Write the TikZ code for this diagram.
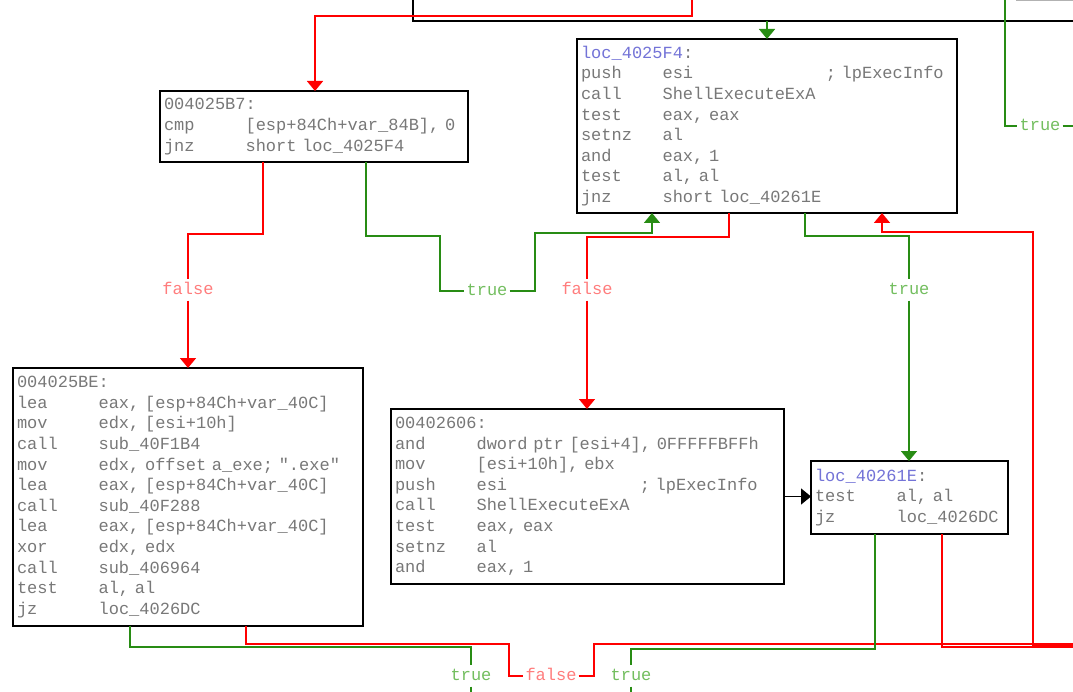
\documentclass[tikz,border=0pt]{standalone}
\usepackage{fontspec}
\usepackage{xcolor}
\usepackage{tikz}
\usetikzlibrary{arrows.meta}
\newfontfamily\asmfont{Liberation Mono}
\definecolor{asmgray}{RGB}{120,120,120}
\definecolor{locblue}{RGB}{115,115,215}
\definecolor{edgered}{RGB}{255,0,0}
\definecolor{edgegreen}{RGB}{40,140,20}
\definecolor{lblred}{RGB}{255,125,125}
\definecolor{lblgreen}{RGB}{115,190,95}
\newcommand{\asmtext}{\asmfont\fontsize{17}{20.6}\selectfont\spaceskip=10.2pt\relax}
\newcommand{\ins}[2]{\makebox[81.6pt][l]{#1}#2}
\newcommand{\cmt}[2]{\makebox[163.2pt][l]{#1}; #2}
\newcommand{\loc}[1]{\textcolor{locblue}{#1}:}

\begin{document}
\begin{tikzpicture}[x=1pt,y=-1pt,
  blk/.style={draw=black,line width=2pt,fill=white,anchor=north west,inner xsep=4pt,inner ysep=0pt,outer sep=0pt,align=left,text=asmgray,font=\asmtext},
  yes/.style={draw=edgegreen,line width=1.6pt},
  no/.style={draw=edgered,line width=1.6pt},
  jmp/.style={draw=black,line width=1.6pt},
  arr/.style={-{Triangle[width=16pt,length=10pt]}},
  lbl/.style={fill=white,inner xsep=2pt,inner ysep=3pt,text height=12pt,text depth=3pt,font=\asmtext},
  yeslbl/.style={lbl,text=lblgreen},
  nolbl/.style={lbl,text=lblred}]
\useasboundingbox (0,0) rectangle (1073,692);
\clip (0,0) rectangle (1073,692);

\node[blk,anchor=south west,minimum width=800pt,minimum height=100pt] (topbox) at (413,21) {};
\node[blk,anchor=south west,minimum width=120pt,minimum height=60pt,draw=gray!60,line width=1pt] (toprt) at (1016,1) {};

\node[blk,minimum width=308pt,minimum height=71pt,text width=300pt] (n25B7) at (160,91) {004025B7:\\
\ins{cmp}{[esp+84Ch+var\_84B], 0}\\
\ins{jnz}{short loc\_4025F4}};

\node[blk,minimum width=380pt,minimum height=174pt,text width=372pt] (n25F4) at (577,39) {\loc{loc\_4025F4}\\
\ins{push}{\cmt{esi}{lpExecInfo}}\\
\ins{call}{ShellExecuteExA}\\
\ins{test}{eax, eax}\\
\ins{setnz}{al}\\
\ins{and}{eax, 1}\\
\ins{test}{al, al}\\
\ins{jnz}{short loc\_40261E}};

\node[blk,minimum width=350pt,minimum height=258pt,text width=342pt] (n25BE) at (13,368) {004025BE:\\
\ins{lea}{eax, [esp+84Ch+var\_40C]}\\
\ins{mov}{edx, [esi+10h]}\\
\ins{call}{sub\_40F1B4}\\
\ins{mov}{edx, offset a\_exe; ".exe"}\\
\ins{lea}{eax, [esp+84Ch+var\_40C]}\\
\ins{call}{sub\_40F288}\\
\ins{lea}{eax, [esp+84Ch+var\_40C]}\\
\ins{xor}{edx, edx}\\
\ins{call}{sub\_406964}\\
\ins{test}{al, al}\\
\ins{jz}{loc\_4026DC}};

\node[blk,minimum width=393pt,minimum height=175pt,text width=385pt] (n2606) at (391,409) {00402606:\\
\ins{and}{dword ptr [esi+4], 0FFFFFBFFh}\\
\ins{mov}{[esi+10h], ebx}\\
\ins{push}{\cmt{esi}{lpExecInfo}}\\
\ins{call}{ShellExecuteExA}\\
\ins{test}{eax, eax}\\
\ins{setnz}{al}\\
\ins{and}{eax, 1}};

\node[blk,minimum width=197pt,minimum height=73pt,text width=189pt] (n261E) at (811,461) {\loc{loc\_40261E}\\
\ins{test}{al, al}\\
\ins{jz}{loc\_4026DC}};

\node[nolbl] (lf25B7) at (188,290) {false};
\node[yeslbl] (lt25B7) at (487,291) {true};
\node[nolbl] (lf25F4) at (587,290) {false};
\node[yeslbl] (lt25F4) at (909,290) {true};
\node[yeslbl] (ltTop) at (1040,126) {true};
\node[yeslbl] (lt25BE) at (471,676) {true};
\node[nolbl] (lf25BE) at (551,676) {false};
\node[yeslbl] (lt261E) at (631,676) {true};

\coordinate (offN1) at (692,-10);
\coordinate (offN2) at (1005,-10);
\coordinate (offE1) at (1090,126);
\coordinate (offE2) at (1090,646);
\coordinate (offE3) at (1090,644);
\coordinate (offE4) at (1090,647);
\coordinate (offS1) at (471,710);
\coordinate (offS2) at (631,710);

\draw[no,arr] (offN1) |- (315,16) -- (n25B7.north -| 315,0);
\draw[yes,arr] (topbox.south -| 767,0) -- (n25F4.north -| 767,0);
\draw[yes] (offN2) |- (1005,126) -- (ltTop) -- (offE1);
\draw[no,arr] (n25B7.south -| 263,0) |- (188,234) -- (lf25B7) -- (n25BE.north -| 188,0);
\draw[yes,arr] (n25B7.south -| 366,0) |- (440,236) -- (440,291) -- (lt25B7) -- (535,291) |- (652,233) -- (n25F4.south -| 652,0);
\draw[no,arr] (n25F4.south -| 729,0) |- (587,237) -- (lf25F4) -- (n2606.north -| 587,0);
\draw[yes,arr] (n25F4.south -| 805,0) |- (909,236) -- (lt25F4) -- (n261E.north -| 909,0);
\draw[no,arr] (offE2) -- (1033,646) |- (882,232) -- (n25F4.south -| 882,0);
\draw[jmp,arr] (n2606.east) -- (n2606.east -| n261E.west);
\draw[yes] (n25BE.south -| 130,0) |- (471,647) -- (lt25BE) -- (offS1);
\draw[no] (n25BE.south -| 246,0) |- (509,644) -- (509,676) -- (lf25BE) -- (594,676) -- (594,644) -- (offE3);
\draw[yes] (n261E.south -| 875,0) |- (631,649) -- (lt261E) -- (offS2);
\draw[no] (n261E.south -| 942,0) |- (offE4);
\end{tikzpicture}
\end{document}
